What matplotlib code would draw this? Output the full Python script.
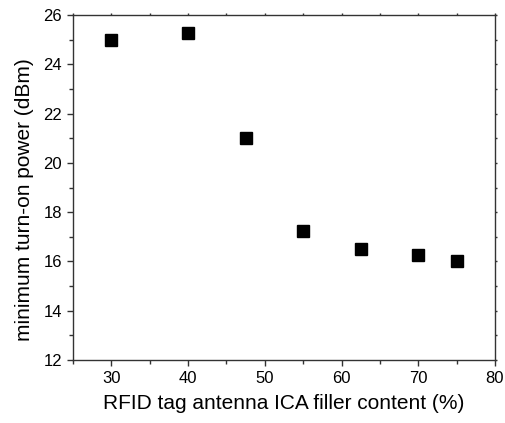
import matplotlib
matplotlib.use("Agg")
import matplotlib.pyplot as plt
from matplotlib.ticker import MultipleLocator

# filler content (%) vs minimum turn-on power (dBm)
filler_content = [30, 40, 47.5, 55, 62.5, 70, 75]
turn_on_power = [25.0, 25.25, 21.0, 17.25, 16.5, 16.25, 16.0]

plt.rcParams["font.family"] = ["Liberation Sans", "DejaVu Sans"]

fig = plt.figure(figsize=(5.06, 4.23), dpi=100)
ax = fig.add_axes([73 / 506, 63 / 423, 422 / 506, 345 / 423])

ax.plot(filler_content, turn_on_power, linestyle="none", marker="s",
        markersize=9, color="black")

ax.set_xlim(25, 80)
ax.set_ylim(12, 26)
ax.xaxis.set_major_locator(MultipleLocator(10))
ax.xaxis.set_minor_locator(MultipleLocator(5))
ax.yaxis.set_major_locator(MultipleLocator(2))
ax.yaxis.set_minor_locator(MultipleLocator(1))

ax.tick_params(which="major", direction="out", length=4.3, width=1, labelsize=12,
               pad=3.5, color="#333333")
ax.tick_params(which="minor", direction="out", length=3, width=1, color="#333333")
ax.tick_params(which="both", top=True, right=True, labeltop=False, labelright=False)
# tiny marks on the top and right frame
for t in ax.xaxis.get_major_ticks() + ax.xaxis.get_minor_ticks():
    t.tick2line.set_markersize(1.5)
for t in ax.yaxis.get_major_ticks() + ax.yaxis.get_minor_ticks():
    t.tick2line.set_markersize(1.5)

for s in ax.spines.values():
    s.set_linewidth(1.0)
    s.set_color("#333333")

ax.set_xlabel("RFID tag antenna ICA filler content (%)", fontsize=15, labelpad=6)
ax.set_ylabel("minimum turn-on power (dBm)", fontsize=15)
ax.yaxis.set_label_coords(-0.092, 0.465)

fig.savefig("out.png", dpi=100)
